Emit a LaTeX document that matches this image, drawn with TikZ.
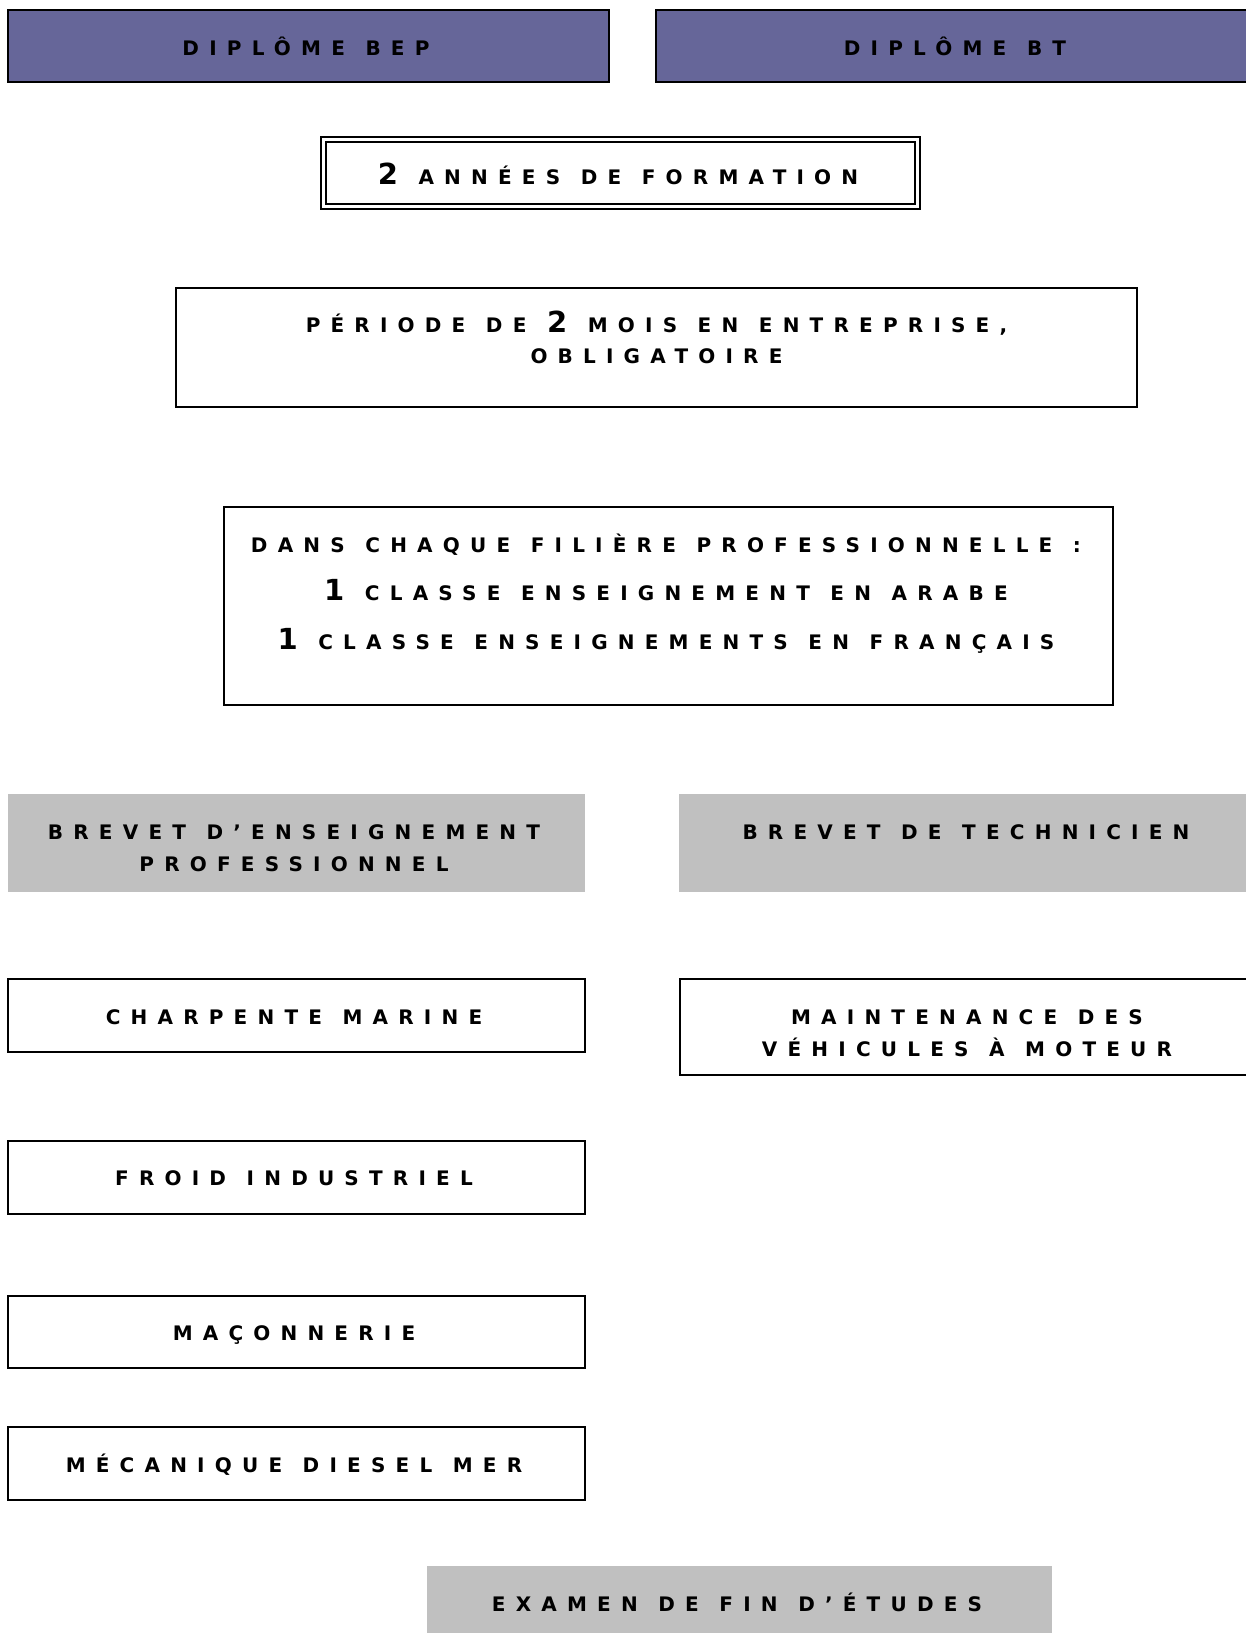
\documentclass[tikz,border=0pt]{standalone}
\usepackage{fontspec}
\newfontfamily\lsf[LetterSpace=51,WordSpace=1.2]{DejaVu Sans Bold}
\definecolor{purp}{HTML}{666699}
\definecolor{gry}{HTML}{C0C0C0}
\newcommand\zs{\rule[-6.5pt]{0pt}{27pt}}
\newcommand\dg[1]{{\fontsize{29}{29}\selectfont #1}}
\begin{document}
\begin{tikzpicture}[x=1pt,y=-1pt,
  every node/.style={inner sep=0pt, outer sep=0pt},
  boxbase/.style={rectangle, line width=1.6pt},
  purplebox/.style={boxbase, draw=black, line width=1.8pt, fill=purp},
  plainbox/.style={boxbase, draw=black, fill=white},
  graybox/.style={boxbase, fill=gry},
  dblbox/.style={rectangle, draw=black, line width=1.6pt, double=white, double distance=3pt},
  lbl/.style={font=\lsf\fontsize{20}{32}\selectfont, align=center, text=black}]
\useasboundingbox (0,0) rectangle (1246,1633);
\clip (0,0) rectangle (1246,1633);
\fill[white] (0,0) rectangle (1246,1633);

% top diplomas
\node[purplebox, minimum width=601pt, minimum height=72pt] (bep) at (308.5,46) {};
\node[lbl] (bep-t) at (306,48) {\zs DIPLÔME BEP};
\node[purplebox, minimum width=598pt, minimum height=72pt] (bt) at (955,46) {};
\node[lbl] (bt-t) at (955,48) {\zs DIPLÔME BT};

% formation
\node[dblbox, minimum width=594pt, minimum height=67pt] (ann) at (620.5,173) {};
\node[lbl] (ann-t) at (618,177) {\zs\dg{2} ANNÉES DE FORMATION};

\node[plainbox, minimum width=961pt, minimum height=119pt] (per) at (656.5,347.5) {};
\node[lbl, font=\lsf\fontsize{20}{31}\selectfont] (per-t) at (656.5,340.5) {\zs PÉRIODE DE \dg{2} MOIS EN ENTREPRISE,\\\zs OBLIGATOIRE};

\node[plainbox, minimum width=889pt, minimum height=198pt] (dans) at (668.5,606) {};
\node[lbl, font=\lsf\fontsize{20}{48.5}\selectfont] (dans-t) at (666,593.5) {\zs DANS CHAQUE FILIÈRE PROFESSIONNELLE :\\\zs\dg{1} CLASSE ENSEIGNEMENT EN ARABE\\\zs\dg{1} CLASSE ENSEIGNEMENTS EN FRANÇAIS};

% brevets
\node[graybox, minimum width=577pt, minimum height=98pt] (brbep) at (296.5,843) {};
\node[lbl] (brbep-t) at (294,848) {\zs BREVET D’ENSEIGNEMENT\\\zs PROFESSIONNEL};
\node[graybox, minimum width=576pt, minimum height=98pt] (brbt) at (967,843) {};
\node[lbl] (brbt-t) at (966,832) {\zs BREVET DE TECHNICIEN};

% filieres
\node[plainbox, minimum width=577pt, minimum height=73pt] (charp) at (296.5,1015.5) {};
\node[lbl] (charp-t) at (294,1017) {\zs CHARPENTE MARINE};
\node[plainbox, minimum width=574pt, minimum height=96pt] (maint) at (967,1027) {};
\node[lbl] (maint-t) at (967,1033) {\zs MAINTENANCE DES\\\zs VÉHICULES À MOTEUR};
\node[plainbox, minimum width=577pt, minimum height=73pt] (froid) at (296.5,1177.5) {};
\node[lbl] (froid-t) at (294,1178) {\zs FROID INDUSTRIEL};
\node[plainbox, minimum width=577pt, minimum height=72pt] (macon) at (296.5,1332) {};
\node[lbl] (macon-t) at (294,1333) {\zs MAÇONNERIE};
\node[plainbox, minimum width=577pt, minimum height=73pt] (meca) at (296.5,1463.5) {};
\node[lbl] (meca-t) at (294,1465) {\zs MÉCANIQUE DIESEL MER};

% examen
\node[graybox, minimum width=625pt, minimum height=76pt] (exam) at (739.5,1604) {};
\node[lbl] (exam-t) at (737,1604) {\zs EXAMEN DE FIN D’ÉTUDES};
\end{tikzpicture}
\end{document}
